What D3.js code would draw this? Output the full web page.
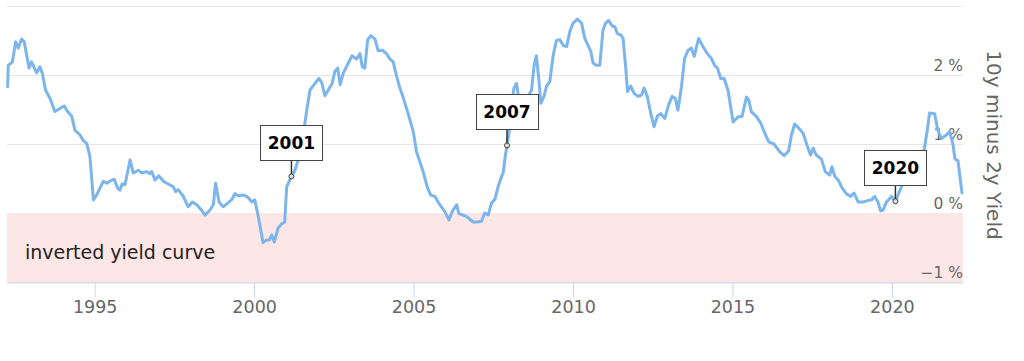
<!DOCTYPE html>
<html>
<head>
<meta charset="utf-8">
<script src="https://cdn.jsdelivr.net/npm/d3@7"></script>
<style>
  body { margin: 0; background: #fff; }
  text { font-family: 'DejaVu Sans', sans-serif; }
</style>
</head>
<body>
<svg id="chart" width="1024" height="361"></svg>
<script>
// 10y minus 2y treasury spread (decimal year, percent)
const years = [
  1992.27, 1992.29, 1992.42, 1992.52, 1992.60, 1992.71, 1992.79, 1992.94, 1993.02, 1993.18,
  1993.28, 1993.36, 1993.46, 1993.60, 1993.75, 1993.86, 1993.96, 1994.05, 1994.12, 1994.28,
  1994.38, 1994.54, 1994.64, 1994.75, 1994.85, 1994.96, 1995.06, 1995.27, 1995.38, 1995.51,
  1995.61, 1995.72, 1995.79, 1995.86, 1995.95, 1996.11, 1996.21, 1996.37, 1996.47, 1996.63,
  1996.73, 1996.79, 1996.89, 1997.01, 1997.18, 1997.31, 1997.46, 1997.54, 1997.62, 1997.78,
  1997.93, 1998.06, 1998.20, 1998.35, 1998.46, 1998.61, 1998.72, 1998.79, 1998.90, 1999.03,
  1999.19, 1999.29, 1999.40, 1999.50, 1999.66, 1999.76, 1999.84, 1999.92, 2000.02, 2000.13,
  2000.28, 2000.39, 2000.48, 2000.55, 2000.63, 2000.75, 2000.86, 2000.96, 2001.02, 2001.12,
  2001.17, 2001.28, 2001.38, 2001.54, 2001.65, 2001.75, 2001.91, 2002.03, 2002.12, 2002.22,
  2002.32, 2002.45, 2002.53, 2002.62, 2002.70, 2002.79, 2002.95, 2003.07, 2003.21, 2003.32,
  2003.39, 2003.47, 2003.56, 2003.66, 2003.79, 2003.89, 2004.02, 2004.15, 2004.26, 2004.36,
  2004.47, 2004.57, 2004.67, 2004.83, 2004.99, 2005.09, 2005.20, 2005.30, 2005.44, 2005.54,
  2005.67, 2005.82, 2005.98, 2006.11, 2006.21, 2006.35, 2006.42, 2006.55, 2006.66, 2006.76,
  2006.87, 2007.00, 2007.13, 2007.23, 2007.34, 2007.44, 2007.55, 2007.65, 2007.76, 2007.81,
  2007.88, 2007.93, 2008.02, 2008.09, 2008.15, 2008.23, 2008.28, 2008.38, 2008.48, 2008.59,
  2008.70, 2008.78, 2008.85, 2008.93, 2008.99, 2009.09, 2009.17, 2009.27, 2009.38, 2009.48,
  2009.59, 2009.69, 2009.80, 2009.90, 2010.00, 2010.14, 2010.27, 2010.37, 2010.47, 2010.56,
  2010.63, 2010.74, 2010.84, 2010.94, 2011.02, 2011.12, 2011.23, 2011.31, 2011.39, 2011.50,
  2011.57, 2011.65, 2011.71, 2011.81, 2011.92, 2012.04, 2012.15, 2012.23, 2012.33, 2012.44,
  2012.54, 2012.65, 2012.75, 2012.88, 2013.00, 2013.11, 2013.21, 2013.29, 2013.40, 2013.50,
  2013.61, 2013.71, 2013.80, 2013.94, 2014.08, 2014.21, 2014.34, 2014.44, 2014.53, 2014.63,
  2014.74, 2014.86, 2015.02, 2015.17, 2015.30, 2015.44, 2015.51, 2015.59, 2015.75, 2015.89,
  2016.01, 2016.14, 2016.30, 2016.48, 2016.62, 2016.76, 2016.85, 2016.95, 2017.08, 2017.21,
  2017.37, 2017.45, 2017.53, 2017.63, 2017.79, 2017.91, 2018.05, 2018.12, 2018.21, 2018.33,
  2018.44, 2018.57, 2018.71, 2018.81, 2018.94, 2019.09, 2019.25, 2019.36, 2019.46, 2019.56,
  2019.65, 2019.72, 2019.83, 2019.99, 2020.11, 2020.30, 2020.40, 2020.62, 2020.81, 2020.93,
  2021.02, 2021.11, 2021.18, 2021.34, 2021.44, 2021.55, 2021.71, 2021.81, 2021.91, 2021.98,
  2022.07, 2022.20,
];

const spreads = [
  1.83, 2.14, 2.19, 2.48, 2.39, 2.52, 2.48, 2.10, 2.19, 2.03,
  2.12, 2.02, 1.78, 1.66, 1.47, 1.50, 1.53, 1.55, 1.49, 1.40,
  1.20, 1.13, 1.05, 1.01, 0.82, 0.19, 0.26, 0.46, 0.43, 0.47,
  0.49, 0.36, 0.33, 0.42, 0.41, 0.77, 0.58, 0.62, 0.58, 0.60,
  0.57, 0.60, 0.48, 0.54, 0.45, 0.42, 0.38, 0.31, 0.34, 0.24,
  0.09, 0.16, 0.12, 0.04, -0.03, 0.04, 0.12, 0.43, 0.16, 0.09,
  0.15, 0.19, 0.28, 0.25, 0.26, 0.24, 0.21, 0.16, 0.19, -0.05,
  -0.43, -0.39, -0.39, -0.32, -0.42, -0.22, -0.16, -0.13, 0.38, 0.48,
  0.53, 0.62, 0.77, 1.13, 1.49, 1.78, 1.88, 1.95, 1.89, 1.70,
  1.78, 1.88, 2.05, 2.10, 1.86, 2.02, 2.17, 2.28, 2.23, 2.31,
  2.12, 2.10, 2.51, 2.57, 2.52, 2.35, 2.36, 2.31, 2.23, 2.19,
  1.98, 1.81, 1.68, 1.44, 1.18, 0.89, 0.74, 0.60, 0.36, 0.26,
  0.24, 0.12, 0.02, -0.10, 0.02, 0.12, -0.01, -0.03, -0.05, -0.09,
  -0.13, -0.13, -0.12, 0.00, -0.03, 0.14, 0.20, 0.38, 0.53, 0.58,
  0.84, 0.98, 1.25, 1.64, 1.81, 1.88, 1.71, 1.69, 1.69, 1.69,
  1.78, 2.14, 2.28, 1.93, 1.59, 1.69, 1.84, 1.90, 2.29, 2.50,
  2.51, 2.43, 2.41, 2.63, 2.75, 2.81, 2.75, 2.53, 2.43, 2.34,
  2.17, 2.14, 2.14, 2.65, 2.75, 2.79, 2.71, 2.70, 2.60, 2.58,
  2.53, 2.12, 1.76, 1.84, 1.73, 1.69, 1.71, 1.81, 1.69, 1.44,
  1.25, 1.41, 1.44, 1.37, 1.57, 1.69, 1.66, 1.49, 1.83, 2.24,
  2.36, 2.39, 2.27, 2.53, 2.41, 2.31, 2.24, 2.14, 2.10, 1.95,
  1.95, 1.78, 1.32, 1.39, 1.40, 1.68, 1.64, 1.47, 1.40, 1.30,
  1.16, 1.03, 1.00, 0.89, 0.83, 0.90, 1.13, 1.29, 1.23, 1.16,
  0.94, 0.84, 0.94, 0.84, 0.78, 0.60, 0.55, 0.67, 0.53, 0.47,
  0.36, 0.28, 0.24, 0.29, 0.16, 0.16, 0.18, 0.19, 0.24, 0.16,
  0.03, 0.04, 0.16, 0.24, 0.17, 0.38, 0.50, 0.56, 0.70, 0.82,
  0.94, 1.20, 1.45, 1.44, 1.20, 1.08, 1.13, 1.18, 1.01, 0.78,
  0.76, 0.29,
];

// annotated points
const eventLabels = ['2001', '2007', '2020'];
const eventYears = [2001.17, 2007.93, 2020.11];
const eventSpreads = [0.53, 0.98, 0.17];

const xTicks = [1995, 2000, 2005, 2010, 2015, 2020];
const yGrid = [3, 2, 1, 0, -1];
const yLabels = [2, 1, 0, -1];
const bandFrom = -1;
const bandTo = 0;
const bandLabel = 'inverted yield curve';
const yTitle = '10y minus 2y Yield';

const svg = d3.select('#chart');
const plot = { left: 7, right: 963, top: 6, bottom: 282 };

const x = d3.scaleLinear().domain([1992.25, 2022.23]).range([plot.left, plot.right]);
const y = d3.scaleLinear().domain([-1, 3]).range([plot.bottom, plot.top]);

// grid lines
svg.append('g')
  .selectAll('line')
  .data(yGrid)
  .enter().append('line')
  .attr('x1', plot.left)
  .attr('x2', plot.right)
  .attr('y1', d => Math.round(y(d)) + 0.5)
  .attr('y2', d => Math.round(y(d)) + 0.5)
  .attr('stroke', '#e6e6e6')
  .attr('stroke-width', 1);

// inverted curve band
svg.append('rect')
  .attr('x', plot.left)
  .attr('y', y(bandTo))
  .attr('width', plot.right - plot.left)
  .attr('height', y(bandFrom) - y(bandTo))
  .attr('fill', '#fde6e6');

svg.append('text')
  .attr('x', plot.left + 18)
  .attr('y', y(bandTo) + 46)
  .attr('fill', '#222')
  .style('font-size', '19px')
  .text(bandLabel);

// x axis
const xAxis = d3.axisBottom(x)
  .tickValues(xTicks)
  .tickFormat(d3.format('d'))
  .tickSize(15)
  .tickPadding(3)
  .tickSizeOuter(0);

const gx = svg.append('g')
  .attr('transform', `translate(0, ${Math.round(y(-1)) + 0.5})`)
  .call(xAxis);
gx.select('.domain').attr('stroke', '#ccd6eb');
gx.selectAll('.tick line').attr('stroke', '#ccd6eb');
gx.selectAll('.tick text')
  .attr('fill', '#666')
  .style('font-family', "'DejaVu Sans', sans-serif")
  .style('font-size', '17.5px');

// y labels (right side, above grid lines)
svg.append('g')
  .selectAll('text')
  .data(yLabels)
  .enter().append('text')
  .attr('x', plot.right)
  .attr('y', d => y(d) - 4)
  .attr('text-anchor', 'end')
  .attr('fill', '#666')
  .style('font-size', '15.5px')
  .text(d => `${d < 0 ? '\u2212' : ''}${Math.abs(d)} %`);

svg.append('text')
  .attr('transform', `translate(987, 145) rotate(90)`)
  .attr('text-anchor', 'middle')
  .attr('fill', '#666')
  .style('font-size', '20px')
  .text(yTitle);

// the spread line
const line = d3.line()
  .x(d => x(d[0]))
  .y(d => y(d[1]));

svg.append('path')
  .datum(d3.zip(years, spreads))
  .attr('d', line)
  .attr('fill', 'none')
  .attr('stroke', '#7cb5ec')
  .attr('stroke-width', 3)
  .attr('stroke-linejoin', 'round')
  .attr('stroke-linecap', 'round');

// annotations
const events = eventLabels.map((label, i) => ({
  label,
  px: x(eventYears[i]),
  py: y(eventSpreads[i]),
}));

const boxW = 62;
const boxH = 35;
const gap = 16;

const ga = svg.append('g')
  .selectAll('g')
  .data(events)
  .enter().append('g');

ga.append('line')
  .attr('x1', d => d.px)
  .attr('x2', d => d.px)
  .attr('y1', d => d.py)
  .attr('y2', d => d.py - gap)
  .attr('stroke', '#333')
  .attr('stroke-width', 1.5);

ga.append('circle')
  .attr('cx', d => d.px)
  .attr('cy', d => d.py)
  .attr('r', 2.5)
  .attr('fill', '#ddd')
  .attr('stroke', '#444')
  .attr('stroke-width', 1);

ga.append('rect')
  .attr('x', d => Math.round(d.px - boxW / 2) + 0.5)
  .attr('y', d => Math.round(d.py - gap - boxH) + 0.5)
  .attr('width', boxW)
  .attr('height', boxH)
  .attr('fill', '#fff')
  .attr('stroke', '#444')
  .attr('stroke-width', 1);

ga.append('text')
  .attr('x', d => d.px)
  .attr('y', d => d.py - gap - boxH / 2 + 6.5)
  .attr('text-anchor', 'middle')
  .attr('fill', '#000')
  .style('font-size', '17px')
  .style('font-weight', 'bold')
  .text(d => d.label);
</script>
</body>
</html>
